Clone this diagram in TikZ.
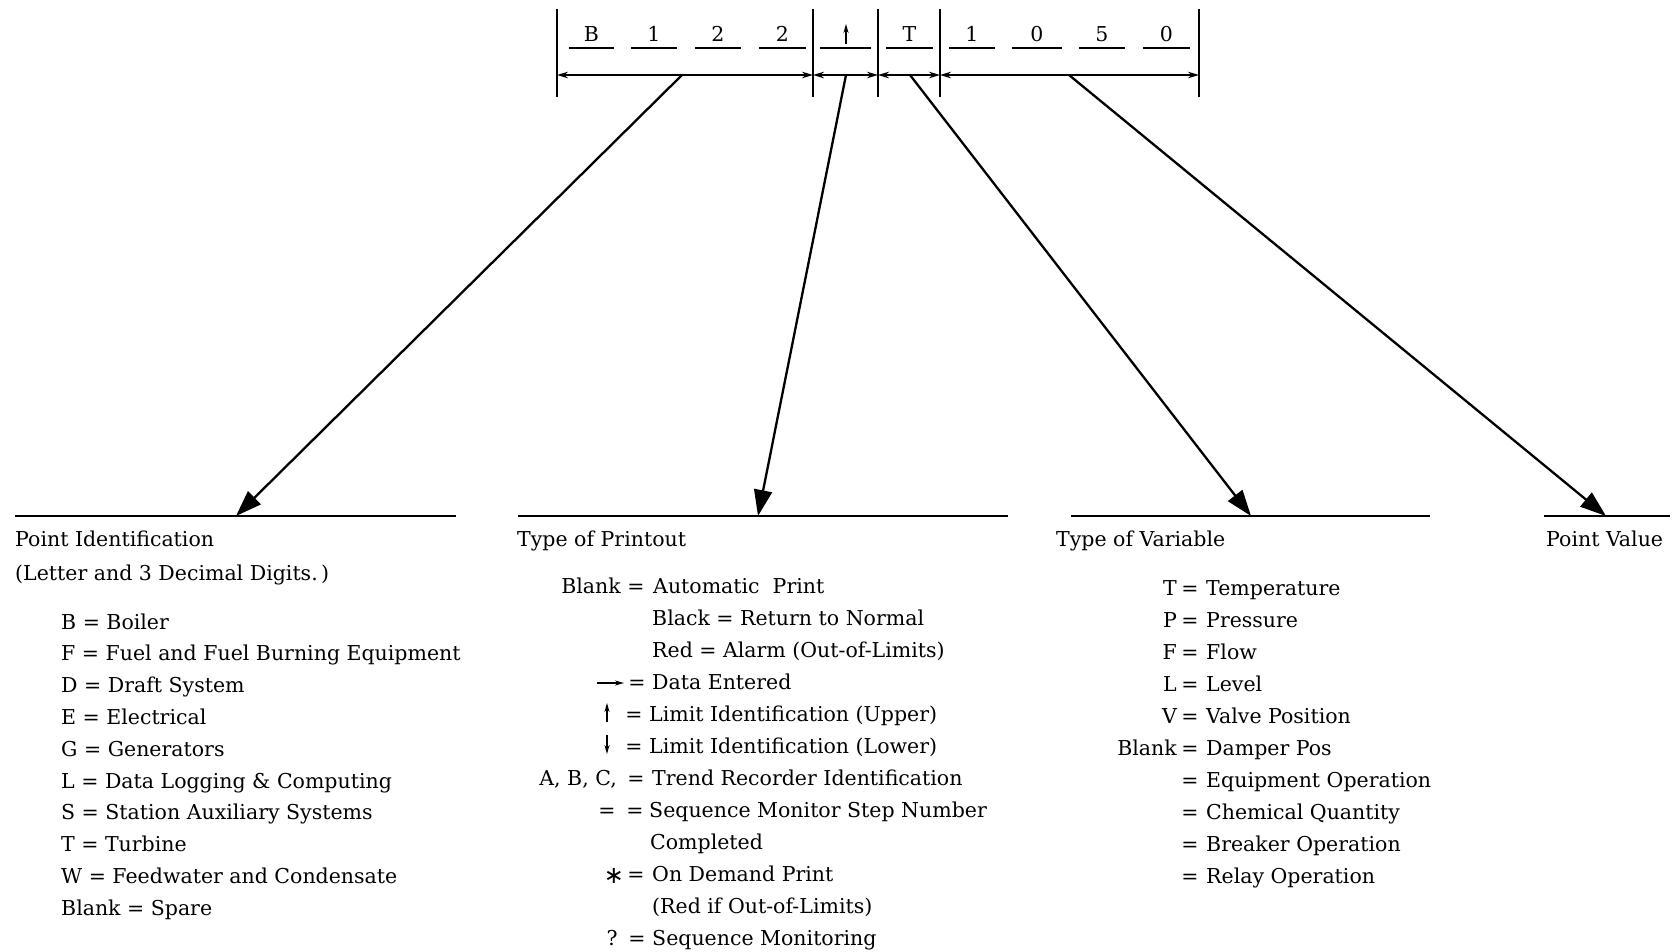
\documentclass[tikz,border=0pt]{standalone}
\usepackage{fontspec}
\setmainfont{DejaVu Serif}
\newfontfamily\symfont{DejaVu Sans}
\usetikzlibrary{arrows.meta}
\begin{document}
\begin{tikzpicture}[x=1pt,y=-1pt,
  txt/.style={anchor=base west, inner sep=0pt, font=\fontsize{20.5}{25}\selectfont},
  txte/.style={txt, anchor=base east},
  txtc/.style={txt, anchor=base},
  bar/.style={line width=2.3pt},
  uline/.style={line width=2.3pt},
  dim/.style={line width=1.7pt, {Stealth[length=11pt,width=6.5pt]}-{Stealth[length=11pt,width=6.5pt]}},
  pointer/.style={line width=2.3pt, -{Triangle[length=26pt,width=18pt]}},
  rulel/.style={line width=2.6pt},
  glyph/.style={line width=1.5pt, -{Stealth[length=9pt,width=5pt]}}]
\useasboundingbox (0,0) rectangle (1673,952);

% ---- top code field ----
\foreach \x/\n in {557/b0,813/b1,878/b2,940/b3,1199/b4}{
  \coordinate (\n t) at (\x,9);
  \coordinate (\n b) at (\x,97);
  \coordinate (\n m) at (\x,75);
  \draw[bar] (\n t) -- (\n b);
}
\draw[dim] (b0m) -- (b1m);
\draw[dim] (b1m) -- (b2m);
\draw[dim] (b2m) -- (b3m);
\draw[dim] (b3m) -- (b4m);

\foreach \a/\b/\d/\n in {569/614/B/d1,631/677/1/d2,695/741/2/d3,759/806/2/d4,886/933/T/d6,949/995/1/d7,1012/1062/0/d8,1079/1125/5/d9,1143/1190/0/d10}{
  \draw[uline] (\a,48) -- (\b,48);
  \node[txtc] (\n) at ({(\a+\b)/2},42) {\d};
}
\draw[uline] (820,48) -- (871,48);
\coordinate (upb) at (846,44);
\coordinate (upt) at (846,24);
\draw[glyph] (upb) -- (upt);

% ---- pointers ----
\coordinate (p1s) at (682,75);  \coordinate (p1e) at (236,516);
\coordinate (p2s) at (846,75);  \coordinate (p2e) at (758,516);
\coordinate (p3s) at (910,75);  \coordinate (p3e) at (1251,516);
\coordinate (p4s) at (1069,75); \coordinate (p4e) at (1606,516);
\draw[pointer] (p1s) -- (p1e);
\draw[pointer] (p2s) -- (p2e);
\draw[pointer] (p3s) -- (p3e);
\draw[pointer] (p4s) -- (p4e);

% ---- rules ----
\coordinate (r1w) at (15,516);   \coordinate (r1e) at (456,516);
\coordinate (r2w) at (518,516);  \coordinate (r2e) at (1008,516);
\coordinate (r3w) at (1071,516); \coordinate (r3e) at (1430,516);
\coordinate (r4w) at (1544,516); \coordinate (r4e) at (1670,516);
\draw[rulel] (r1w) -- (r1e);
\draw[rulel] (r2w) -- (r2e);
\draw[rulel] (r3w) -- (r3e);
\draw[rulel] (r4w) -- (r4e);

% ---- column 1 ----
\node[txt] (h1) at (15,546) {Point Identification};
\node[txt] (h1b) at (15,580) {(Letter and 3 Decimal Digits.\,)};
\foreach \t [count=\i from 0] in {B = Boiler,F = Fuel and Fuel Burning Equipment,D = Draft System,E = Electrical,G = Generators,L = Data Logging \& Computing,S = Station Auxiliary Systems,T = Turbine,W = Feedwater and Condensate,Blank = Spare}{
  \node[txt] (c1i\i) at (61,{629+31.8*\i}) {\t};
}

% ---- column 2 ----
\node[txt] (h2) at (517,546) {Type of Printout};
\node[txte] (c2l0) at (621,593) {Blank};
\node[txtc] (c2q0) at (636,593) {=};
\node[txt] (c2r0) at (653,593) {Automatic\ \ Print};
\node[txt] (c2r1) at (652,625) {Black = Return to Normal};
\node[txt] (c2r2) at (652,657) {Red = Alarm (Out-of-Limits)};
\coordinate (dea) at (597,683); \coordinate (deb) at (624,683);
\draw[glyph] (dea) -- (deb);
\node[txtc] (c2q3) at (637,689) {=};
\node[txt] (c2r3) at (652,689) {Data Entered};
\coordinate (lua) at (607,722); \coordinate (lub) at (607,703);
\draw[glyph] (lua) -- (lub);
\node[txtc] (c2q4) at (634,721) {=};
\node[txt] (c2r4) at (649,721) {Limit Identification (Upper)};
\coordinate (lla) at (607,735); \coordinate (llb) at (607,754);
\draw[glyph] (lla) -- (llb);
\node[txtc] (c2q5) at (634,753) {=};
\node[txt] (c2r5) at (649,753) {Limit Identification (Lower)};
\node[txte] (c2l6) at (617,785) {A, B, C,};
\node[txtc] (c2q6) at (636,785) {=};
\node[txt] (c2r6) at (652,785) {Trend Recorder Identification};
\node[txtc] (c2l7) at (607,817) {=};
\node[txtc] (c2q7) at (635,817) {=};
\node[txt] (c2r7) at (649,817) {Sequence Monitor Step Number};
\node[txt] (c2r8) at (650,849) {Completed};
\node[txtc, font=\symfont\fontsize{24}{28}\selectfont] (c2l9) at (614,883) {∗};
\node[txtc] (c2q9) at (636,881) {=};
\node[txt] (c2r9) at (652,881) {On Demand Print};
\node[txt] (c2r10) at (652,913) {(Red if Out-of-Limits)};
\node[txtc] (c2l11) at (612,945) {?};
\node[txtc] (c2q11) at (637,945) {=};
\node[txt] (c2r11) at (652,945) {Sequence Monitoring};

% ---- column 3 ----
\node[txt] (h3) at (1056,546) {Type of Variable};
\foreach \l/\r [count=\i from 0] in {T/Temperature,P/Pressure,F/Flow,L/Level,V/Valve Position,Blank/Damper Pos,/Equipment Operation,/Chemical Quantity,/Breaker Operation,/Relay Operation}{
  \node[txte] (c3l\i) at (1177,{595+32*\i}) {\l};
  \node[txtc] (c3q\i) at (1190,{595+32*\i}) {=};
  \node[txt] (c3r\i) at (1206,{595+32*\i}) {\r};
}

% ---- column 4 ----
\node[txt] (h4) at (1546,546) {Point Value};
\end{tikzpicture}
\end{document}
